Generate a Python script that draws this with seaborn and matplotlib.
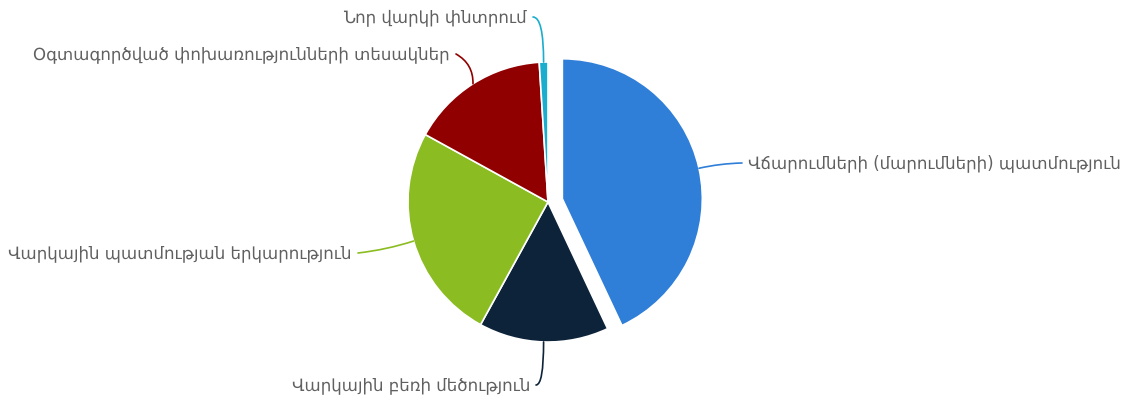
import numpy as np
import matplotlib
matplotlib.use("Agg")
import matplotlib.pyplot as plt
import seaborn as sns

# Credit score factors (share of the score, %)
categories = [
    "Վճարումների (մարումների) պատմություն",
    "Վարկային բեռի մեծություն",
    "Վարկային պատմության երկարություն",
    "Օգտագործված փոխառությունների տեսակներ",
    "Նոր վարկի փնտրում",
]
shares = [43, 15, 25, 16, 1]
colors = ["#2f7ed8", "#0d233a", "#8bbc21", "#910000", "#1aadce"]
pulled_out = [True, False, False, False, False]

sns.set_theme(style="white")
plt.rcParams["font.family"] = ["DejaVu Sans"]

W, H = 1127, 396
fig = plt.figure(figsize=(W / 100, H / 100), dpi=100)
ax = fig.add_axes([0, 0, 1, 1])

cx, cy, R = 548, H - 202, 140
# pie() offsets exploded wedges in data units
explode = [0.105 * R if p else 0 for p in pulled_out]
wedges, _ = ax.pie(
    shares,
    colors=sns.color_palette(colors),
    explode=explode,
    startangle=90,
    counterclock=False,
    radius=R,
    center=(cx, cy),
    wedgeprops=dict(edgecolor="white", linewidth=1.2),
    frame=True,
)
ax.set_xlim(0, W)
ax.set_ylim(0, H)
ax.set_aspect("equal")
ax.axis("off")

# label text anchor (x, y in px from top), alignment, connector style
label_layout = [
    (748, 163, "left", "arc3,rad=0.05"),
    (530, 385, "right", "angle3,angleA=0,angleB=90"),
    (352, 253, "right", "arc3,rad=0.05"),
    (450, 54, "right", "arc3,rad=-0.3"),
    (527, 17, "right", "angle3,angleA=0,angleB=90"),
]

text_color = "#606060"
for w, name, col, (lx, ly, ha, cstyle) in zip(wedges, categories, colors, label_layout):
    mid = np.deg2rad((w.theta1 + w.theta2) / 2)
    ox, oy = w.center
    ex = ox + w.r * np.cos(mid)
    ey = oy + w.r * np.sin(mid)
    ty = H - ly
    ax.text(lx, ty, name, ha=ha, va="center", fontsize=12, color=text_color)
    gap = 6
    sx = lx - gap if ha == "left" else lx + gap
    ax.annotate(
        "",
        xy=(ex, ey),
        xytext=(sx, ty),
        arrowprops=dict(arrowstyle="-", color=col, lw=1.2,
                        connectionstyle=cstyle, shrinkA=0, shrinkB=0),
    )

fig.savefig("out.png", dpi=100, facecolor="white")
